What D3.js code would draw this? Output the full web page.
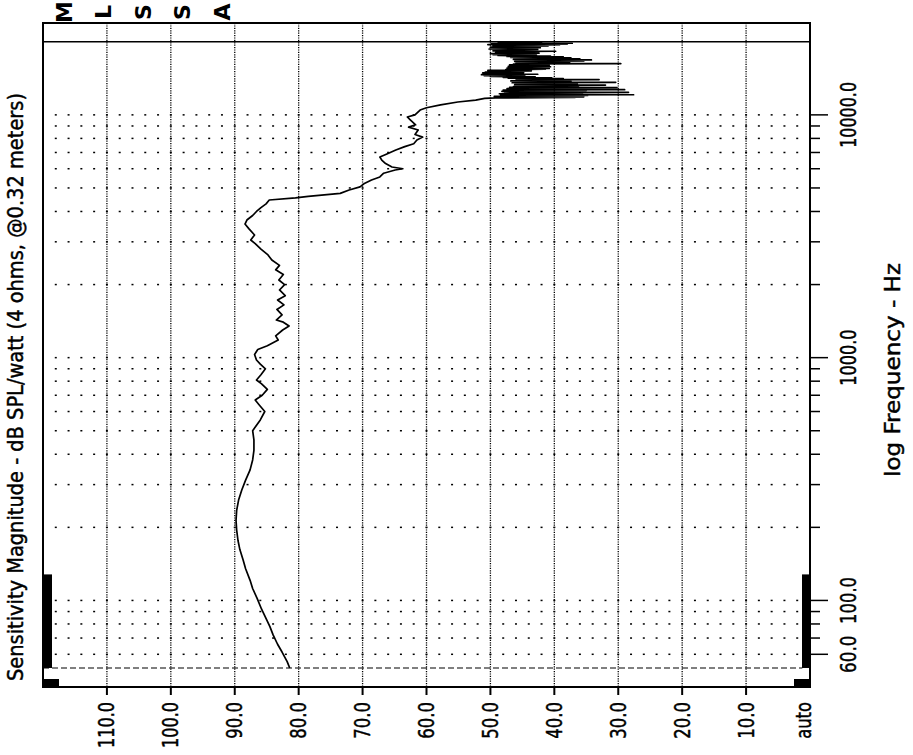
<!DOCTYPE html>
<html>
<head>
<meta charset="utf-8">
<script src="https://cdn.jsdelivr.net/npm/d3@7"></script>
<style>
  body { margin: 0; background: #fff; }
  text { font-family: "DejaVu Sans", sans-serif; fill: #000; stroke: #000; stroke-width: 0.45px; }
</style>
</head>
<body>
<div id="chart"></div>
<script>
// dB axis (drawn horizontally, high values on the left)
const dbTicks = [110, 100, 90, 80, 70, 60, 50, 40, 30, 20, 10];
// frequency axis (drawn vertically, log)
const freqGrid = [60, 70, 80, 90, 100, 200, 300, 400, 500, 600, 700, 800, 900, 1000,
  2000, 3000, 4000, 5000, 6000, 7000, 8000, 9000, 10000];
const freqLabels = [60, 100, 1000, 10000];
const sweepLimits = [52.7, 20000];
const topLetters = ["M", "L", "S", "S", "A"];

// measured response: frequency (Hz) / dB SPL, smooth part up to ~11.7 kHz
const mainFreq = [52.7, 56, 61.3, 66, 72.1, 78, 83.1, 92, 102, 112, 121, 135, 147, 162, 177, 195, 214, 235, 259, 285,
  313, 345, 379, 415, 458, 500, 554, 600, 640, 669, 700, 740, 780, 809, 850, 900, 940, 978, 1030, 1080,
  1120, 1182, 1230, 1300, 1350, 1400, 1429, 1500, 1580, 1650, 1728, 1800, 1900, 2000, 2089, 2200, 2300, 2400, 2524, 2650,
  2800, 2950, 3052, 3200, 3400, 3550, 3689, 3850, 4000, 4150, 4300, 4460, 4550, 4620, 4750, 4904, 5050, 5200, 5389, 5550,
  5750, 5929, 6000, 6100, 6300, 6517, 6700, 6900, 7164, 7400, 7600, 7880, 8100, 8300, 8660, 8900, 9100, 9521, 9800, 10000,
  10470, 10700, 11000, 11300, 11510, 11700];
const mainSpl = [81.4, 81.8, 82.6, 83.3, 84.0, 84.5, 85.0, 85.8, 86.5, 87.2, 87.6, 88.3, 88.7, 89.2, 89.5, 89.7, 89.8, 89.7, 89.4, 88.9,
  88.3, 87.6, 87.2, 87.0, 87.0, 87.2, 86.0, 85.3, 86.2, 86.8, 85.7, 84.9, 85.8, 86.6, 85.9, 85.2, 86.0, 86.6, 86.9, 86.4,
  84.9, 83.2, 83.6, 82.5, 81.5, 82.4, 83.5, 82.6, 83.4, 82.3, 83.3, 82.1, 83.0, 82.2, 83.1, 82.4, 83.6, 83.0, 84.2, 84.8,
  85.9, 86.8, 87.5, 86.9, 87.8, 88.4, 88.1, 87.2, 86.6, 85.9, 85.1, 84.6, 80.5, 78.5, 73.5, 72.1, 70.4, 69.8, 68.6, 67.3,
  66.7, 64.9, 63.7, 65.4, 66.4, 67.0, 67.3, 66.2, 64.8, 63.4, 62.0, 61.5, 60.6, 61.8, 61.3, 62.8, 61.7, 62.5, 63.0, 61.8,
  61.0, 60.0, 57.8, 55.1, 52.3, 50.9];

// noisy top octave, 11.75 kHz - 20 kHz
const noiseFreq = [11750, 11790, 11830, 11870, 11910, 11950, 11990, 12030, 12070, 12100, 12140, 12180, 12220, 12260, 12300, 12340, 12380, 12420, 12460, 12500,
  12540, 12580, 12620, 12660, 12700, 12740, 12780, 12820, 12860, 12900, 12940, 12980,
  13020, 13080, 13140, 13200, 13260, 13320, 13380, 13440, 13500, 13560, 13620, 13680, 13740, 13800, 13860, 13920, 13980, 14040, 14100, 14160, 14220,
  14280, 14340, 14400, 14460, 14520, 14580, 14640, 14700, 14760, 14820, 14880, 14940, 15000, 15060, 15120, 15180, 15240, 15300,
  15360, 15420, 15480, 15540, 15600, 15660, 15720, 15780, 15840, 15900, 15960, 16020, 16080, 16140, 16200, 16260, 16320, 16380,
  16440, 16520, 16600, 16680, 16760, 16840, 16920, 17000, 17080, 17160, 17240, 17320, 17400, 17480,
  17560, 17640, 17720, 17800, 17880, 17960, 18040, 18120, 18200, 18280, 18360, 18440, 18520, 18600, 18680, 18760, 18840, 18920, 19000, 19080, 19160,
  19240, 19320, 19400, 19480, 19560, 19640, 19720, 19800, 19880, 19950];
const noiseSpl = [49.2, 36.8, 48.0, 35.4, 49.4, 37.0, 47.6, 34.8, 48.4, 27.6, 47.0, 35.6, 48.6, 36.2, 46.8, 34.6, 28.4, 47.8, 35.8, 48.2,
  36.4, 47.6, 35.0, 48.0, 29.0, 46.8, 35.6, 47.4, 36.0, 46.2, 30.2, 47.0,
  36.2, 46.4, 37.0, 45.6, 32.0, 46.2, 36.4, 45.0, 36.8, 46.6, 30.4, 45.8, 37.4, 46.8, 38.2, 45.2, 33.0, 46.0, 38.6, 47.2, 40.4,
  48.0, 43.0, 50.0, 45.4, 51.0, 44.6, 51.4, 42.6, 50.6, 45.6, 51.2, 44.8, 50.8, 45.2, 50.0, 43.6, 50.4, 45.8,
  47.6, 41.4, 47.0, 40.8, 47.4, 41.6, 46.8, 40.6, 47.2, 41.2, 46.6, 40.8, 47.0, 42.0, 46.4, 29.6, 46.0, 40.2,
  45.8, 37.6, 46.2, 35.4, 45.4, 34.2, 46.4, 36.0, 45.0, 37.4, 46.8, 38.6, 47.4, 40.6,
  48.8, 42.8, 49.6, 43.4, 50.0, 42.4, 49.2, 44.0, 48.6, 39.8, 49.6, 43.2, 48.8, 42.6, 50.2, 44.4, 49.0, 42.2, 50.0, 43.8, 48.6,
  41.0, 49.6, 39.2, 50.4, 38.0, 49.8, 37.2, 48.8, 42.0, 47.6];

const freq = mainFreq.concat(noiseFreq);
const spl = mainSpl.concat(noiseSpl);

const W = 913, H = 755;
const frameL = 43, frameR = 810, frameT = 23, frameB = 687;

const svg = d3.select("#chart").append("svg")
  .attr("width", W)
  .attr("height", H);

const x = d3.scaleLinear().domain([120, 0]).range([frameL, frameR]);
const y = d3.scaleLog().domain([44, 23900]).range([frameB, frameT]);

// horizontal dotted grid (dots every 2 dB)
const dotDb = d3.range(2, 120, 2);
freqGrid.forEach(f => {
  svg.append("g").selectAll("rect")
    .data(dotDb)
    .enter()
    .append("rect")
    .attr("x", d => x(d) - 1)
    .attr("y", y(f) - 0.75)
    .attr("width", 2)
    .attr("height", 1.5)
    .style("fill", "#000");
});

// vertical dotted grid
svg.selectAll("line.vgrid")
  .data(dbTicks)
  .enter()
  .append("line")
  .attr("class", "vgrid")
  .attr("x1", d => x(d)).attr("x2", d => x(d))
  .attr("y1", frameT).attr("y2", frameB)
  .style("stroke", "#000")
  .style("stroke-width", 1.3)
  .style("stroke-dasharray", "1.2,1.2");

// sweep limits: dashed at start, solid at end
svg.append("line")
  .attr("x1", frameL).attr("x2", x(1.2))
  .attr("y1", y(sweepLimits[0])).attr("y2", y(sweepLimits[0]))
  .style("stroke", "#000").style("stroke-width", 1.2)
  .style("stroke-dasharray", "6,3");
svg.append("line")
  .attr("x1", frameL).attr("x2", frameR)
  .attr("y1", y(sweepLimits[1])).attr("y2", y(sweepLimits[1]))
  .style("stroke", "#000").style("stroke-width", 1.5);

// response curve
const line = d3.line()
  .x((d, i) => x(spl[i]))
  .y(d => y(d));

svg.append("path")
  .attr("d", line(freq))
  .style("fill", "none")
  .style("stroke", "#000")
  .style("stroke-width", 1.7)
  .style("stroke-linejoin", "round");

// frame
svg.append("rect")
  .attr("x", frameL).attr("y", frameT)
  .attr("width", frameR - frameL).attr("height", frameB - frameT)
  .style("fill", "none")
  .style("stroke", "#000")
  .style("stroke-width", 2);

// black markers at the frame corners
const markTop = y(128);
svg.append("rect").attr("x", frameL).attr("y", markTop)
  .attr("width", 9).attr("height", y(sweepLimits[0]) - markTop).style("fill", "#000");
svg.append("rect").attr("x", frameR - 8).attr("y", markTop)
  .attr("width", 8).attr("height", y(sweepLimits[0]) - markTop).style("fill", "#000");
svg.append("rect").attr("x", frameL).attr("y", frameB - 8)
  .attr("width", 16).attr("height", 8).style("fill", "#000");
svg.append("rect").attr("x", frameR - 16).attr("y", frameB - 8)
  .attr("width", 16).attr("height", 8).style("fill", "#000");

// dB ticks and labels
svg.selectAll("line.dbtick")
  .data(dbTicks)
  .enter()
  .append("line")
  .attr("x1", d => x(d)).attr("x2", d => x(d))
  .attr("y1", frameB).attr("y2", frameB + 8)
  .style("stroke", "#000").style("stroke-width", 2);

const dbText = dbTicks.map(d => d.toFixed(1)).concat(["auto"]);
svg.selectAll("text.db")
  .data(dbText)
  .enter()
  .append("text")
  .attr("transform", (d, i) => `translate(${i < dbTicks.length ? x(dbTicks[i]) : x(1)},702) rotate(-90)`)
  .attr("dy", "0.36em")
  .style("text-anchor", "end")
  .style("font-size", "21px")
  .attr("textLength", d => d.length * 9.2)
  .attr("lengthAdjust", "spacingAndGlyphs")
  .text(d => d);

// frequency ticks and labels
svg.selectAll("line.ftick")
  .data(freqGrid)
  .enter()
  .append("line")
  .attr("x1", frameR).attr("x2", d => frameR + (freqLabels.includes(d) ? 18 : 10))
  .attr("y1", d => y(d)).attr("y2", d => y(d))
  .style("stroke", "#000").style("stroke-width", 1.5);

svg.selectAll("text.freq")
  .data(freqLabels)
  .enter()
  .append("text")
  .attr("transform", d => `translate(848,${y(d)}) rotate(-90)`)
  .attr("dy", "0.36em")
  .style("text-anchor", "middle")
  .style("font-size", "21px")
  .attr("textLength", d => d.toFixed(1).length * 9.4)
  .attr("lengthAdjust", "spacingAndGlyphs")
  .text(d => d.toFixed(1));

// titles
svg.append("text")
  .attr("transform", "translate(15,681) rotate(-90)")
  .attr("dy", "0.36em")
  .style("text-anchor", "start")
  .style("font-size", "21px")
  .attr("textLength", 588)
  .attr("lengthAdjust", "spacingAndGlyphs")
  .text("Sensitivity Magnitude - dB SPL/watt (4 ohms, @0.32 meters)");

svg.append("text")
  .attr("transform", "translate(892,370) rotate(-90)")
  .attr("dy", "0.36em")
  .style("text-anchor", "middle")
  .style("font-size", "21px")
  .attr("textLength", 214)
  .attr("lengthAdjust", "spacingAndGlyphs")
  .text("log Frequency - Hz");

svg.selectAll("text.brand")
  .data(topLetters)
  .enter()
  .append("text")
  .attr("transform", (d, i) => `translate(${64 + i * 39.5},12) rotate(-90)`)
  .attr("dy", "0.36em")
  .style("text-anchor", "middle")
  .style("font-size", "22px")
  .style("stroke-width", "0px")
  .style("font-weight", "bold")
  .text(d => d);
</script>
</body>
</html>
